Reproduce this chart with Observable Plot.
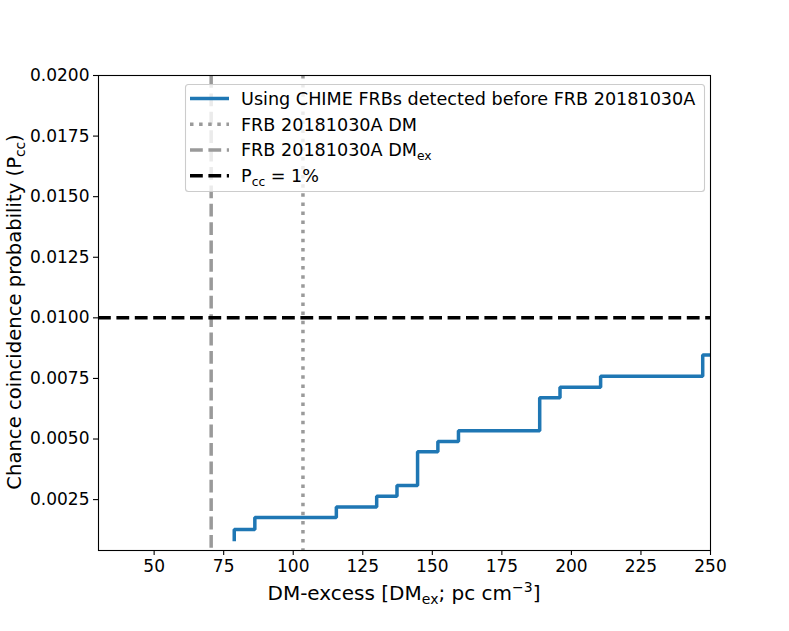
<!DOCTYPE html>
<html>
<head>
<meta charset="utf-8">
<script src="https://cdn.jsdelivr.net/npm/d3@7"></script>
<script src="https://cdn.jsdelivr.net/npm/@observablehq/plot@0.6"></script>
<style>
  html, body { margin: 0; padding: 0; background: #fff; }
  #chart { width: 789px; height: 631px; }
</style>
</head>
<body>
<div id="chart"></div>
<script>
// ---- data ----
const dmExcess = [78.8, 78.8, 86.2, 115.5, 130.0, 137.3, 144.7, 152.0, 159.4, 188.6, 195.9, 210.5, 247.2, 250];
const pccValues = [0.00085, 0.00127, 0.00176, 0.00219, 0.00264, 0.00308, 0.00447, 0.0049, 0.00534, 0.0067, 0.00714, 0.00759, 0.00847, 0.00847];
const frbDM = [103.5];
const frbDMex = [70.5];
const pccThreshold = [0.01];
const xTickVals = [50, 75, 100, 125, 150, 175, 200, 225, 250];
const yTickVals = [0.0025, 0.0050, 0.0075, 0.0100, 0.0125, 0.0150, 0.0175, 0.0200];
const legendLabels = ["Using CHIME FRBs detected before FRB 20181030A", "FRB 20181030A DM", "FRB 20181030A DM", "P"];

const stepData = dmExcess.map((x, i) => ({x, y: pccValues[i]}));

const blue = "#1f77b4";
const grayDot = "#9a9a9a";
const grayDash = "#9a9a9a";

const plot = Plot.plot({
  width: 789,
  height: 631,
  marginLeft: 98,
  marginRight: 79,
  marginTop: 75,
  marginBottom: 81,
  style: {fontFamily: "DejaVu Sans", fontSize: "17px", color: "black", background: "white", overflow: "visible"},
  x: {domain: [30, 250]},
  y: {domain: [0.0004, 0.0200]},
  marks: [
    Plot.lineY(stepData, {x: "x", y: "y", curve: "step-after", stroke: blue, strokeWidth: 3.5, strokeLinecap: "square", strokeLinejoin: "miter", clip: true}),
    Plot.ruleX(frbDM, {stroke: grayDot, strokeWidth: 3.5, strokeDasharray: "3.5,5.6"}),
    Plot.ruleX(frbDMex, {stroke: grayDash, strokeWidth: 3.5, strokeDasharray: "12.8,5.6"}),
    Plot.ruleY(pccThreshold, {stroke: "black", strokeWidth: 3.5, strokeDasharray: "12.8,5.6"}),
    Plot.frame({stroke: "black", strokeWidth: 1.1}),
    Plot.axisX({ticks: xTickVals, tickFormat: d => String(d), tickSize: 5, tickPadding: 4, label: null, strokeWidth: 1.1}),
    Plot.axisY({ticks: yTickVals, tickFormat: d3.format(".4f"), tickSize: 5, tickPadding: 4, label: null, strokeWidth: 1.1})
  ]
});
document.getElementById("chart").appendChild(plot);

const svg = d3.select(plot);
const font = "DejaVu Sans";

// x label
const xl = svg.append("text").attr("x", 404).attr("y", 600).attr("text-anchor", "middle")
  .attr("font-family", font).attr("font-size", 20).attr("fill", "black");
xl.append("tspan").text("DM-excess [DM");
xl.append("tspan").attr("font-size", 14).attr("dy", 4).text("ex");
xl.append("tspan").attr("dy", -4).text("; pc cm");
xl.append("tspan").attr("font-size", 14).attr("dy", -8).text("\u22123");
xl.append("tspan").attr("dy", 8).text("]");

// y label
const yl = svg.append("text").attr("transform", "translate(21,312) rotate(-90)").attr("text-anchor", "middle")
  .attr("font-family", font).attr("font-size", 19.6).attr("fill", "black");
yl.append("tspan").text("Chance coincidence probability (P");
yl.append("tspan").attr("font-size", 13.7).attr("dy", 4).text("cc");
yl.append("tspan").attr("dy", -4).text(")");

// legend
const lg = svg.append("g").attr("text-anchor", "start");
lg.append("rect").attr("x", 185.5).attr("y", 84.5).attr("width", 519).attr("height", 107).attr("rx", 3)
  .attr("fill", "white").attr("fill-opacity", 0.8).attr("stroke", "#cccccc").attr("stroke-width", 1.1);
const rows = [98.5, 124.3, 150, 175.8];
const styles = [
  {stroke: blue, dash: null},
  {stroke: grayDot, dash: "3.5,5.6"},
  {stroke: grayDash, dash: "12.8,5.6"},
  {stroke: "black", dash: "12.8,5.6"}
];
rows.forEach((y, i) => {
  const l = lg.append("line").attr("x1", 190).attr("x2", 229).attr("y1", y).attr("y2", y)
    .attr("stroke", styles[i].stroke).attr("stroke-width", 3.5);
  if (styles[i].dash) l.attr("stroke-dasharray", styles[i].dash);
  const t = lg.append("text").attr("x", 241).attr("y", y + 6.3).attr("font-family", font)
    .attr("text-anchor", "start").attr("font-size", 17.6).attr("fill", "black");
  t.append("tspan").text(legendLabels[i]);
  if (i === 2) {
    t.append("tspan").attr("font-size", 12.3).attr("dy", 3.7).text("ex");
  }
  if (i === 3) {
    t.append("tspan").attr("font-size", 12.3).attr("dy", 3.7).text("cc");
    t.append("tspan").attr("dy", -3.7).text(" = 1%");
  }
});
</script>
</body>
</html>
